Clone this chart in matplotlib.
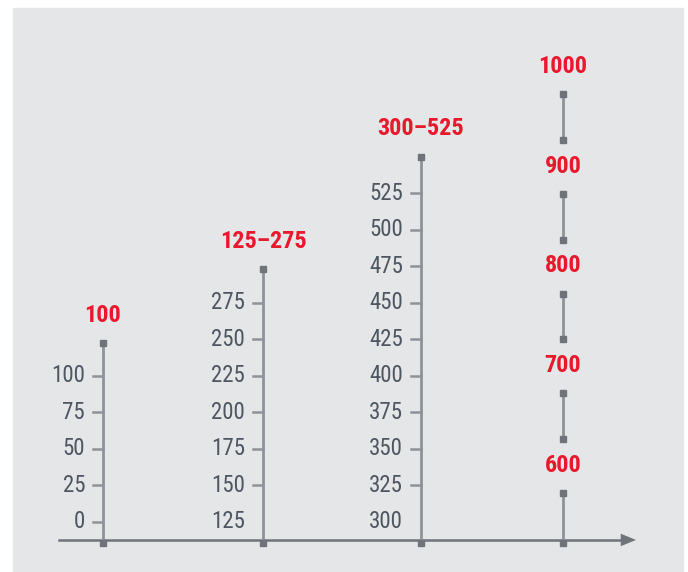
import matplotlib.pyplot as plt
import matplotlib.patches as mpatches
import numpy as np

# data
col_ticks = [
    [0, 25, 50, 75, 100],
    [125, 150, 175, 200, 225, 250, 275],
    [300, 325, 350, 375, 400, 425, 450, 475, 500, 525],
]
col_labels = ['100', '125–275', '300–525']
single_values = [600, 700, 800, 900, 1000]
single_labels = ['600', '700', '800', '900', '1000']

# style
bg = '#e5e6e8'
line_c = '#8d9399'
mark_c = '#6f747b'
tick_c = '#4d5661'
red = '#e8192c'
font = ['Roboto Condensed', 'DejaVu Sans']

xpos = [103, 263, 421, 563]
top_pad = [0.9, 0.92, 1.0]
axis_y = -0.5

fig = plt.figure(figsize=(6.88, 5.72), dpi=100)
ax = fig.add_axes([0, 0, 1, 1])
ax.set_xlim(0, 688)
ax.set_ylim(-1.378, 14.293)
ax.axis('off')
ax.add_patch(mpatches.Rectangle((13 / 688, 0), 670 / 688, 564 / 572,
                                transform=ax.transAxes, color=bg, zorder=0))

# horizontal axis with arrow
ax.plot([59, 620], [axis_y, axis_y], color=mark_c, lw=1.8, zorder=2)
ax.annotate('', xy=(636, axis_y), xytext=(618, axis_y),
            arrowprops=dict(arrowstyle='-|>,head_length=1.1,head_width=0.45',
                            color=mark_c, lw=0, shrinkA=0, shrinkB=0))

# range columns
for x, ticks, lab, pad in zip(xpos, col_ticks, col_labels, top_pad):
    pos = np.arange(len(ticks))
    top = pos[-1] + pad
    ax.plot([x, x], [axis_y, top], color=line_c, lw=2, zorder=2)
    ax.plot([x], [top], 's', color=mark_c, ms=4.6, zorder=3)
    ax.plot([x], [axis_y - 0.07], 's', color=mark_c, ms=4.6, zorder=3)
    for p, t in zip(pos, ticks):
        if p > 0 or x == xpos[0]:
            ax.plot([x - 10, x], [p, p], color=line_c, lw=1.8, zorder=2)
        ax.text(x - 18, p, str(t), ha='right', va='center', fontsize=16.5,
                color=tick_c, family=font)
    ax.text(x, top + 0.76, lab, ha='center', va='center', fontsize=17.5,
            color=red, weight='bold', family=font)

# single values column
x = xpos[3]
lab_y = 1.55 + (np.array(single_values) - 600) / 100 * 2.73
ax.plot([x], [axis_y - 0.07], 's', color=mark_c, ms=4.6, zorder=3)
prev = axis_y
for y, lab in zip(lab_y, single_labels):
    lo, hi = prev, y - 0.76
    ax.plot([x, x], [lo, hi], color=line_c, lw=2, zorder=2)
    if prev != axis_y:
        ax.plot([x], [lo], 's', color=mark_c, ms=4.6, zorder=3)
    ax.plot([x], [hi], 's', color=mark_c, ms=4.6, zorder=3)
    ax.text(x, y, lab, ha='center', va='center', fontsize=17.5,
            color=red, weight='bold', family=font)
    prev = y + 0.72

fig.savefig('out.png', dpi=100, facecolor='white')
